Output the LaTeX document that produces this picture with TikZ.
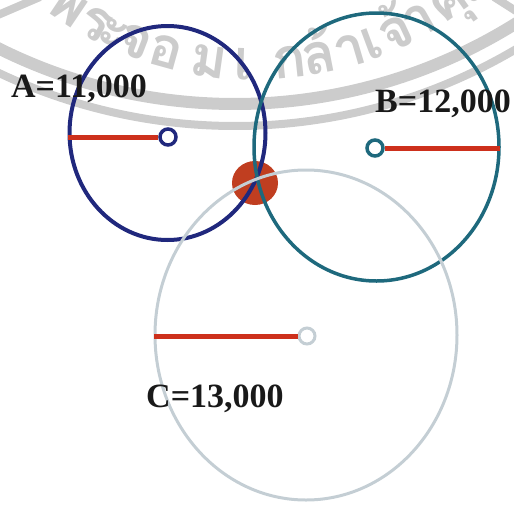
\documentclass[tikz,border=0pt]{standalone}
\usepackage{fontspec}
\setmainfont{Liberation Serif}
\newfontfamily\thaifont[Script=Thai]{Loma}
\usepackage{tikz}
\usepackage{xcolor}
\definecolor{ringA}{RGB}{32,40,125}
\definecolor{ringB}{RGB}{30,105,125}
\definecolor{ringC}{RGB}{196,206,212}
\definecolor{radred}{RGB}{205,48,28}
\definecolor{hitred}{RGB}{192,62,32}
\definecolor{stamp}{RGB}{204,204,204}
\tikzset{
  ring/.style={line width=#1},
  hub/.style={circle, draw=#1, fill=white, line width=3.5pt, minimum size=16pt, inner sep=0pt},
  radius line/.style={draw=radred, line width=5pt},
  value/.style={font=\bfseries\fontsize{34}{34}\selectfont, text=black!90, inner sep=0pt, anchor=base west},
  band/.style={draw=stamp, line width=#1},
  glyph/.style={font=\thaifont\bfseries\fontsize{56}{56}\selectfont, text=stamp, anchor=base, inner sep=0pt},
}

\begin{document}
\begin{tikzpicture}[x=1pt, y=-1pt]
  \useasboundingbox (0,0) rectangle (514,504);
  \clip (0,0) rectangle (514,504);
  % watermark seal
  \draw[band=12pt] (235,-426) ++(118:530) arc[start angle=118, end angle=56, radius=530];
  \draw[band=8pt] (235,-426) ++(117:552) arc[start angle=117, end angle=56, radius=552];
  \draw[band=8pt] (-2,15) -- (40,-3);
  \draw[band=8pt] (494,-3) -- (516,11);
  \coordinate (tc) at (255,-270);
  \foreach \ang/\ch [count=\k] in {124/พ, 118.5/ร, 115/ะ, 111/จ, 105.5/อ, 98/ม, 92/เ, 84/ก,
      79/ล้, 73.5/า, 69.5/เ, 65/จ้, 60.5/า, 54.5/คุ, 48/ณ}
    \path (tc) ++(\ang:350) node[glyph, rotate=90-\ang] (wm\k) {\ch};
  % meeting point
  \fill[hitred] (255,183) ellipse [x radius=23, y radius=22];
  % circle A
  \draw[ringA, ring=4pt] (167.5,133) ellipse [x radius=98, y radius=107];
  \node[hub=ringA] (cA) at (168,137) {};
  \draw[radius line] (cA.west) -- ++(-90,0);
  % circle B
  \draw[ringB, ring=3.5pt] (376.5,147) ellipse [x radius=122.5, y radius=134];
  \node[hub=ringB] (cB) at (375,148) {};
  \draw[radius line] (cB.east) -- ++(115,0);
  % circle C
  \draw[ringC, ring=3pt] (306,335) ellipse [x radius=151, y radius=165];
  \node[hub=ringC, line width=3pt] (cC) at (307,336) {};
  \draw[radius line] (cC.west) -- ++(-144,0);
  % values
  \node[value] (lA) at (11,97) {A=11,000};
  \node[value] (lB) at (375,112) {B=12,000};
  \node[value] (lC) at (146,407) {C=13,000};
\end{tikzpicture}
\end{document}
